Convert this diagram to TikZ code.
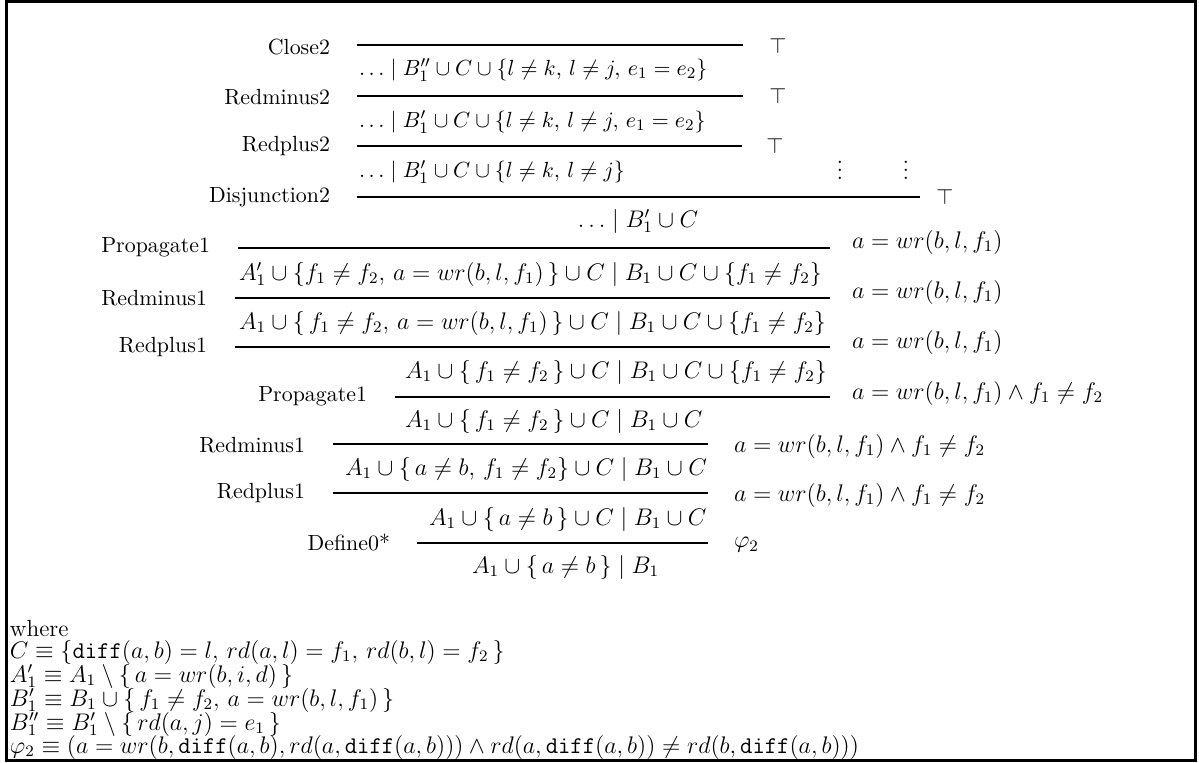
\documentclass[tikz,border=0pt]{standalone}
\begin{document}
\begin{tikzpicture}[x=0.5pt,y=-0.5pt,
  every node/.style={inner sep=0pt,outer sep=0pt,font=\fontsize{10.95}{13}\selectfont},
  rname/.style={anchor=east},
  topfml/.style={anchor=west,font=\fontsize{11.2}{13}\selectfont},
  fml/.style={anchor=west,font=\fontsize{11.7}{14}\selectfont},
  cfml/.style={font=\fontsize{11.7}{14}\selectfont},
  side/.style={anchor=west,font=\fontsize{11.6}{14}\selectfont},
  defline/.style={anchor=west,font=\fontsize{11.7}{14}\selectfont},
  infrule/.style={line width=1.3pt},
  frame/.style={line width=1.3pt}]
\useasboundingbox (0,0) rectangle (1199,762);
\draw[frame] (6.5,1.2) rectangle (1195.5,760.2);

% ---- upper derivation
\node[rname] (n1) at (330,47) {Close2};
\coordinate (r1a) at (357,45); \coordinate (r1b) at (743,45);
\draw[infrule] (r1a) -- (r1b);
\node (t1) at (778,46) {$\top$};
\node[topfml] (f1) at (359,70) {$\ldots\mid B''_1\cup C\cup\{l\neq k,\, l\neq j,\, e_1=e_2\}$};

\node[rname] (n2) at (330,97) {Redminus2};
\coordinate (r2a) at (357,96); \coordinate (r2b) at (743,96);
\draw[infrule] (r2a) -- (r2b);
\node (t2) at (778,96) {$\top$};
\node[topfml] (f2) at (359,122) {$\ldots\mid B'_1\cup C\cup\{l\neq k,\, l\neq j,\, e_1=e_2\}$};

\node[rname] (n3) at (330,146) {Redplus2};
\coordinate (r3a) at (357,146); \coordinate (r3b) at (742,146);
\draw[infrule] (r3a) -- (r3b);
\node (t3) at (775,146) {$\top$};
\node[topfml] (f3) at (359,172) {$\ldots\mid B'_1\cup C\cup\{l\neq k,\, l\neq j\}$};
\node (d1) at (840,164) {$\vdots$};
\node (d2) at (906,164) {$\vdots$};

\node[rname] (n4) at (330,197) {Disjunction2};
\coordinate (r4a) at (357,197); \coordinate (r4b) at (920,197);
\draw[infrule] (r4a) -- (r4b);
\node (t4) at (945,197) {$\top$};
\node[cfml] (f4) at (638,221) {$\ldots\mid B'_1\cup C$};

% ---- lower derivation
\node[rname] (n5) at (210,247) {Propagate1};
\coordinate (r5a) at (238,248); \coordinate (r5b) at (830,248);
\draw[infrule] (r5a) -- (r5b);
\node[side] (s5) at (852,242) {$a=wr(b,l,f_1)$};
\node[fml] (f5) at (239,274) {$A'_1\cup\{f_1\neq f_2,\, a=wr(b,l,f_1)\,\}\cup C\mid B_1\cup C\cup\{f_1\neq f_2\}$};

\node[rname] (n6) at (207,298) {Redminus1};
\coordinate (r6a) at (235,298); \coordinate (r6b) at (830,298);
\draw[infrule] (r6a) -- (r6b);
\node[side] (s6) at (852,292) {$a=wr(b,l,f_1)$};
\node[fml] (f6) at (239,323) {$A_1\cup\{\,f_1\neq f_2,\, a=wr(b,l,f_1)\,\}\cup C\mid B_1\cup C\cup\{f_1\neq f_2\}$};

\node[rname] (n7) at (207,347) {Redplus1};
\coordinate (r7a) at (235,347); \coordinate (r7b) at (830,347);
\draw[infrule] (r7a) -- (r7b);
\node[side] (s7) at (852,342) {$a=wr(b,l,f_1)$};
\node[fml] (f7) at (405,372) {$A_1\cup\{\,f_1\neq f_2\,\}\cup C\mid B_1\cup C\cup\{f_1\neq f_2\}$};

\node[rname] (n8) at (367,396) {Propagate1};
\coordinate (r8a) at (395,397); \coordinate (r8b) at (830,397);
\draw[infrule] (r8a) -- (r8b);
\node[side] (s8) at (852,393) {$a=wr(b,l,f_1)\wedge f_1\neq f_2$};
\node[fml] (f8) at (405,421) {$A_1\cup\{\,f_1\neq f_2\,\}\cup C\mid B_1\cup C$};

\node[rname] (n9) at (305,445) {Redminus1};
\coordinate (r9a) at (333,444); \coordinate (r9b) at (708,444);
\draw[infrule] (r9a) -- (r9b);
\node[side] (s9) at (734,446) {$a=wr(b,l,f_1)\wedge f_1\neq f_2$};
\node[fml] (f9) at (345,469) {$A_1\cup\{\,a\neq b,\, f_1\neq f_2\}\cup C\mid B_1\cup C$};

\node[rname] (n10) at (305,493) {Redplus1};
\coordinate (r10a) at (333,493); \coordinate (r10b) at (708,493);
\draw[infrule] (r10a) -- (r10b);
\node[side] (s10) at (734,495) {$a=wr(b,l,f_1)\wedge f_1\neq f_2$};
\node[fml] (f10) at (429,519) {$A_1\cup\{\,a\neq b\,\}\cup C\mid B_1\cup C$};

\node[rname] (n11) at (390,543) {Define0*};
\coordinate (r11a) at (417,543); \coordinate (r11b) at (708,543);
\draw[infrule] (r11a) -- (r11b);
\node[side] (s11) at (734,545) {$\varphi_2$};
\node[fml] (f11) at (472,567) {$A_1\cup\{\,a\neq b\,\}\mid B_1$};

% ---- definitions
\node[defline] (w0) at (10,628) {where};
\node[defline] (w1) at (10,652) {$C\equiv\{\mathtt{diff}(a,b)=l,\, rd(a,l)=f_1,\, rd(b,l)=f_2\,\}$};
\node[defline] (w2) at (10,676) {$A'_1\equiv A_1\setminus\{\,a=wr(b,i,d)\,\}$};
\node[defline] (w3) at (10,700) {$B'_1\equiv B_1\cup\{\,f_1\neq f_2,\, a=wr(b,l,f_1)\,\}$};
\node[defline] (w4) at (10,724) {$B''_1\equiv B'_1\setminus\{\,rd(a,j)=e_1\,\}$};
\node[defline] (w5) at (10,747) {$\varphi_2\equiv(a=wr(b,\mathtt{diff}(a,b),rd(a,\mathtt{diff}(a,b)))\wedge rd(a,\mathtt{diff}(a,b))\neq rd(b,\mathtt{diff}(a,b)))$};
\end{tikzpicture}
\end{document}
